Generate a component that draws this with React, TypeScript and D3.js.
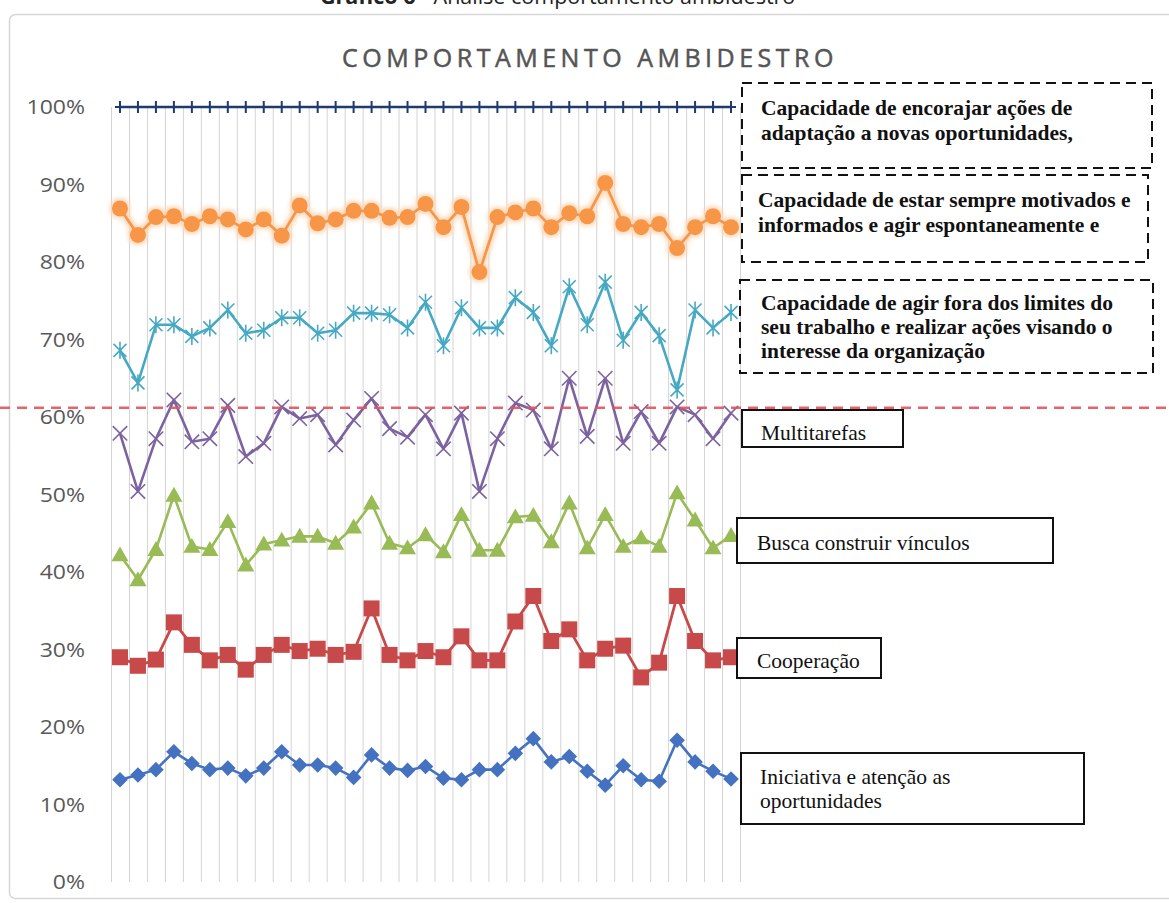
import React from "react";
import * as d3 from "d3";

const categories = ["1","2","3","4","5","6","7","8","9","10","11","12","13","14","15","16","17","18","19","20","21","22","23","24","25","26","27","28","29","30","31","32","33","34","35"];

const encorajar = [1,1,1,1,1,1,1,1,1,1,1,1,1,1,1,1,1,1,1,1,1,1,1,1,1,1,1,1,1,1,1,1,1,1,1];
const motivados = [0.869,0.835,0.858,0.859,0.849,0.859,0.855,0.842,0.855,0.834,0.873,0.850,0.855,0.866,0.866,0.857,0.858,0.875,0.845,0.871,0.787,0.858,0.864,0.869,0.845,0.863,0.859,0.902,0.849,0.845,0.849,0.818,0.845,0.859,0.845];
const agirFora = [0.686,0.644,0.719,0.719,0.704,0.715,0.738,0.708,0.712,0.728,0.728,0.708,0.712,0.734,0.734,0.732,0.715,0.748,0.692,0.741,0.715,0.715,0.754,0.735,0.692,0.768,0.719,0.774,0.699,0.735,0.705,0.635,0.738,0.715,0.735];
const multitarefas = [0.579,0.504,0.572,0.622,0.568,0.572,0.615,0.549,0.566,0.613,0.598,0.603,0.564,0.596,0.624,0.585,0.574,0.603,0.559,0.605,0.504,0.572,0.618,0.609,0.559,0.650,0.575,0.650,0.566,0.607,0.566,0.613,0.603,0.572,0.605];
const vinculos = [0.422,0.390,0.429,0.499,0.433,0.429,0.465,0.409,0.436,0.441,0.446,0.446,0.437,0.458,0.489,0.437,0.431,0.448,0.426,0.474,0.428,0.428,0.471,0.473,0.439,0.489,0.431,0.474,0.433,0.444,0.433,0.502,0.467,0.431,0.447];
const cooperacao = [0.290,0.279,0.287,0.335,0.306,0.286,0.293,0.274,0.293,0.306,0.298,0.301,0.293,0.297,0.353,0.293,0.286,0.298,0.290,0.317,0.286,0.286,0.336,0.369,0.311,0.326,0.286,0.301,0.305,0.264,0.283,0.369,0.311,0.286,0.290];
const iniciativa = [0.132,0.138,0.145,0.168,0.153,0.145,0.147,0.137,0.147,0.168,0.151,0.151,0.147,0.135,0.164,0.147,0.144,0.149,0.134,0.132,0.145,0.145,0.166,0.185,0.155,0.162,0.143,0.125,0.150,0.132,0.130,0.183,0.155,0.143,0.133];

const threshold = 0.612;
const yTicks = [0, 0.1, 0.2, 0.3, 0.4, 0.5, 0.6, 0.7, 0.8, 0.9, 1.0];

const pageTitleBold = "Gráfico 6";
const pageTitleRest = " - Análise comportamento ambidestro";
const chartTitle = "COMPORTAMENTO AMBIDESTRO";

type Box = { x: number; y: number; w: number; h: number; dashed: boolean; bold: boolean; tx: number; lines: string[]; baselines: number[] };
const boxes: Box[] = [
  { x: 742, y: 83, w: 410, h: 85, dashed: true, bold: true, tx: 761, lines: ["Capacidade de encorajar ações de", "adaptação a novas oportunidades,"], baselines: [115, 139.5] },
  { x: 742, y: 175, w: 406, h: 87, dashed: true, bold: true, tx: 758, lines: ["Capacidade de estar sempre motivados e", "informados e agir espontaneamente e"], baselines: [207, 232] },
  { x: 740, y: 280, w: 413, h: 93, dashed: true, bold: true, tx: 761, lines: ["Capacidade de agir fora dos limites do", "seu trabalho e realizar ações visando o", "interesse da organização"], baselines: [310, 334, 358] },
  { x: 742, y: 410, w: 161, h: 37, dashed: false, bold: false, tx: 761, lines: ["Multitarefas"], baselines: [440] },
  { x: 737, y: 518, w: 316, h: 45, dashed: false, bold: false, tx: 757, lines: ["Busca construir vínculos"], baselines: [550] },
  { x: 737, y: 638, w: 144, h: 40, dashed: false, bold: false, tx: 757, lines: ["Cooperação"], baselines: [668] },
  { x: 741, y: 753, w: 343, h: 71, dashed: false, bold: false, tx: 760, lines: ["Iniciativa e atenção as", "oportunidades"], baselines: [784, 808] },
];

const W = 1169, H = 903;

function markerPath(kind: string, cx: number, cy: number): string {
  const p = d3.path();
  if (kind === "diamond") {
    const r = 7.8;
    p.moveTo(cx, cy - r); p.lineTo(cx + r, cy); p.lineTo(cx, cy + r); p.lineTo(cx - r, cy); p.closePath();
  } else if (kind === "square") {
    const r = 8;
    p.rect(cx - r, cy - r, 2 * r, 2 * r);
  } else if (kind === "triangle") {
    const r = 8.5;
    p.moveTo(cx, cy - r); p.lineTo(cx + r, cy + r * 0.75); p.lineTo(cx - r, cy + r * 0.75); p.closePath();
  } else if (kind === "x") {
    const r = 7.2;
    p.moveTo(cx - r, cy - r); p.lineTo(cx + r, cy + r); p.moveTo(cx + r, cy - r); p.lineTo(cx - r, cy + r);
  } else if (kind === "asterisk") {
    const r = 6.5;
    p.moveTo(cx - r, cy - r); p.lineTo(cx + r, cy + r); p.moveTo(cx + r, cy - r); p.lineTo(cx - r, cy + r);
    p.moveTo(cx, cy - 8.5); p.lineTo(cx, cy + 8.5);
  } else if (kind === "plus") {
    p.moveTo(cx, cy - 6); p.lineTo(cx, cy + 6); p.moveTo(cx - 5, cy); p.lineTo(cx + 5, cy);
  }
  return p.toString();
}

export default function App() {
  const x = d3.scaleBand<string>().domain(categories).range([111, 740]);
  const y = d3.scaleLinear().domain([0, 1]).range([882, 107]);
  const cx = (c: string) => (x(c) as number) + x.bandwidth() / 2;

  const series = [
    { name: "iniciativa", values: iniciativa, color: "#4472c0", marker: "diamond", filled: true, lw: 2.6 },
    { name: "cooperacao", values: cooperacao, color: "#c8494a", marker: "square", filled: true, lw: 2.8 },
    { name: "vinculos", values: vinculos, color: "#98bb55", marker: "triangle", filled: true, lw: 2.6 },
    { name: "multitarefas", values: multitarefas, color: "#7d62a0", marker: "x", filled: false, lw: 2.6 },
    { name: "agirFora", values: agirFora, color: "#46a9c4", marker: "asterisk", filled: false, lw: 2.6 },
    { name: "motivados", values: motivados, color: "#f79646", marker: "circle", filled: true, lw: 2.8 },
    { name: "encorajar", values: encorajar, color: "#1f3a6e", marker: "plus", filled: false, lw: 2.4 },
  ];

  const line = d3.line<number>().x((_, i) => cx(categories[i])).y((d) => y(d));

  return (
    <div style={{ position: "absolute", left: 0, top: 0 }}>
      <svg width={W} height={H} style={{ display: "block" }}>
        <defs>
          <filter id="glow" x="-50%" y="-50%" width="200%" height="200%">
            <feMorphology in="SourceAlpha" operator="dilate" radius="1.5" result="d" />
            <feGaussianBlur in="d" stdDeviation="2" result="b" />
            <feFlood floodColor="#fbd9b8" result="f" />
            <feComposite in="f" in2="b" operator="in" result="g" />
            <feMerge>
              <feMergeNode in="g" />
              <feMergeNode in="SourceGraphic" />
            </feMerge>
          </filter>
        </defs>
        <rect x={0} y={0} width={W} height={H} fill="#ffffff" />
        <text x={320} y={4} fontFamily="'Open Sans', sans-serif" fontSize={21.5} fill="#222">
          <tspan fontWeight="bold">{pageTitleBold}</tspan>
          <tspan>{pageTitleRest}</tspan>
        </text>
        <rect x={9.5} y={14.5} width={1200} height={884} rx={6} fill="#ffffff" stroke="#d6d6d6" strokeWidth={1.5} />
        <text x={590} y={67} textAnchor="middle" fontFamily="'Open Sans', sans-serif" fontSize={25} letterSpacing={4.5} fill="#555555" stroke="#555555" strokeWidth={0.5}>
          {chartTitle}
        </text>

        {/* vertical gridlines */}
        <g stroke="#d4d4d4" strokeWidth={1}>
          {categories.map((c) => (
            <line key={c} x1={(x(c) as number) + 0.5} x2={(x(c) as number) + 0.5} y1={y(1)} y2={y(0)} />
          ))}
          <line x1={740.5} x2={740.5} y1={y(1)} y2={y(0)} />
        </g>

        {/* y labels */}
        <g fontFamily="'Open Sans', sans-serif" fontSize={20} fill="#595959" textAnchor="end">
          {yTicks.map((t) => (
            <text key={t} transform={`translate(85,${y(t)}) scale(1.15,1)`} dy="0.35em">{d3.format(".0%")(t)}</text>
          ))}
        </g>

        {/* series */}
        {series.map((s) => (
          <g key={s.name} filter={s.name === "motivados" ? "url(#glow)" : undefined}>
            <path d={line(s.values) || ""} fill="none" stroke={s.color} strokeWidth={s.lw} strokeLinejoin="round" />
            {s.values.map((v, i) => {
              const px = cx(categories[i]);
              const py = y(v);
              if (s.marker === "circle") return <circle key={i} cx={px} cy={py} r={8} fill={s.color} />;
              if (s.filled) return <path key={i} d={markerPath(s.marker, px, py)} fill={s.color} />;
              return <path key={i} d={markerPath(s.marker, px, py)} fill="none" stroke={s.color} strokeWidth={s.marker === "plus" ? 2 : 1.6} />;
            })}
          </g>
        ))}

        {/* threshold line */}
        <line x1={0} x2={W} y1={y(threshold)} y2={y(threshold)} stroke="#e2535c" strokeOpacity={0.9} strokeWidth={2.5} strokeDasharray="10 7" />

        {/* annotation boxes */}
        {boxes.map((b, i) => (
          <g key={i}>
            <rect x={b.x} y={b.y} width={b.w} height={b.h} fill={b.dashed ? "none" : "#ffffff"} stroke="#111" strokeWidth={2} strokeDasharray={b.dashed ? "10 6" : undefined} />
            {b.lines.map((l, j) => (
              <text key={j} x={b.tx} y={b.baselines[j]} fontFamily="'Liberation Serif', serif" fontSize={21.5} fontWeight={b.bold ? "bold" : "normal"} fill="#111">{l}</text>
            ))}
          </g>
        ))}
      </svg>
    </div>
  );
}
